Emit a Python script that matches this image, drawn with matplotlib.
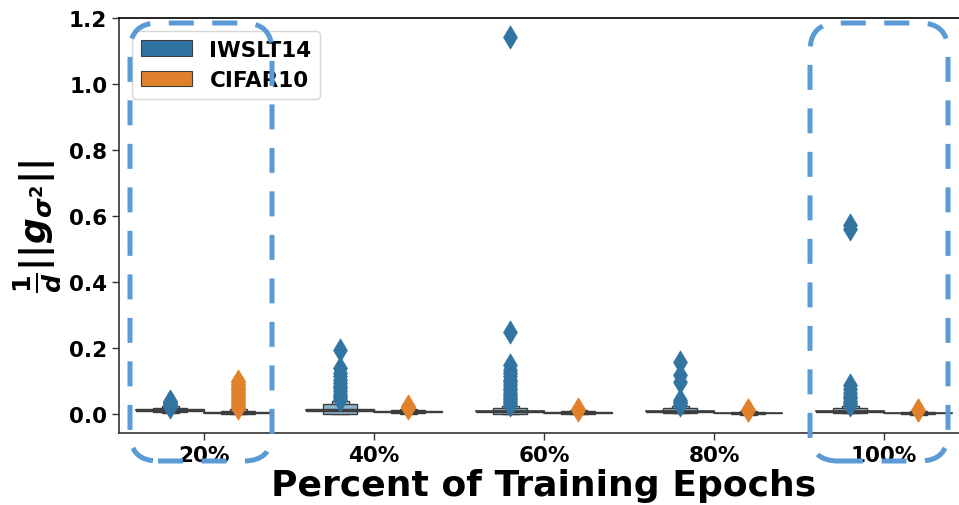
import numpy as np
import matplotlib.pyplot as plt
from matplotlib.patches import Rectangle, FancyBboxPatch, Patch
from matplotlib.colors import to_rgb

plt.rcParams['font.family'] = 'DejaVu Sans'
plt.rcParams['font.weight'] = 'bold'
plt.rcParams['mathtext.fontset'] = 'dejavusans'

categories = ['20%', '40%', '60%', '80%', '100%']
series = ['IWSLT14', 'CIFAR10']
colors = ['#3274a1', '#e1812c']

# letter values per category: (lower, upper) for quartiles, octiles, sixteenths
iwslt_median = [0.013, 0.013, 0.009, 0.009, 0.009]
iwslt_q = [(0.011, 0.015), (0.011, 0.015), (0.008, 0.011), (0.008, 0.011), (0.008, 0.011)]
iwslt_e = [(0.007, 0.020), (0.002, 0.030), (0.002, 0.018), (0.005, 0.018), (0.005, 0.018)]
iwslt_d = [(0.004, 0.026), (0.001, 0.040), (0.001, 0.026), (0.003, 0.026), (0.003, 0.026)]

cifar_median = [0.005, 0.008, 0.005, 0.004, 0.004]
cifar_q = [(0.004, 0.006), (0.007, 0.009), (0.004, 0.006), (0.003, 0.005), (0.003, 0.005)]
cifar_e = [(0.001, 0.011), (0.003, 0.012), (0.001, 0.009), (0.000, 0.008), (0.000, 0.008)]
cifar_d = [(0.000, 0.016), (0.002, 0.017), (0.000, 0.012), (-0.001, 0.011), (-0.001, 0.011)]

iwslt_outliers = [
    [0.022, 0.026, 0.029, 0.032, 0.035, 0.038, 0.040],
    [0.042, 0.048, 0.055, 0.062, 0.070, 0.078, 0.085, 0.095, 0.105, 0.115, 0.125, 0.140, 0.193],
    [0.028, 0.034, 0.040, 0.046, 0.052, 0.058, 0.065, 0.072, 0.080, 0.088, 0.096, 0.105,
     0.115, 0.125, 0.135, 0.150, 0.250, 1.143],
    [0.028, 0.033, 0.038, 0.044, 0.098, 0.120, 0.158],
    [0.028, 0.034, 0.040, 0.048, 0.056, 0.065, 0.075, 0.088, 0.560, 0.572],
]
cifar_outliers = [
    [0.018, 0.022, 0.027, 0.032, 0.037, 0.042, 0.047, 0.052, 0.057, 0.062, 0.067, 0.072,
     0.077, 0.082, 0.087, 0.092, 0.097, 0.102],
    [0.018, 0.021, 0.024],
    [0.013, 0.015],
    [0.012, 0.013],
    [0.012, 0.013],
]

fig = plt.figure(figsize=(9.59, 5.06), dpi=100)
ax = fig.add_axes([119 / 959, 1 - 434 / 506, 850 / 959, 415 / 506])

box_w = 0.4
level_widths = [1.0, 0.5, 0.25]
edge = '#3d3d3d'


def lighten(c, f):
    c = np.array(to_rgb(c))
    return tuple(c + (1 - c) * f)


def draw_boxen(x, med, levels, outl, color):
    # narrow outer boxes first, widest (quartile) box last
    shades = [0.0, 0.45, 0.75]
    for (lo, hi), w, s in reversed(list(zip(levels, level_widths, shades))):
        ww = box_w * w
        ax.add_patch(Rectangle((x - ww / 2, lo), ww, hi - lo, facecolor=lighten(color, s),
                               edgecolor=edge, linewidth=1.0, zorder=2))
    ax.plot([x - box_w / 2, x + box_w / 2], [med, med], color=edge, lw=1.2, zorder=3)
    ax.scatter([x] * len(outl), outl, marker='d', s=140, color=color, edgecolors=color,
               linewidths=0.5, zorder=4)


for i in range(len(categories)):
    draw_boxen(i - 0.2, iwslt_median[i], [iwslt_q[i], iwslt_e[i], iwslt_d[i]],
               iwslt_outliers[i], colors[0])
    draw_boxen(i + 0.2, cifar_median[i], [cifar_q[i], cifar_e[i], cifar_d[i]],
               cifar_outliers[i], colors[1])

ax.set_xlim(-0.5, len(categories) - 0.5)
ax.set_ylim(-0.057, 1.2)
ax.set_xticks(range(len(categories)))
ax.set_xticklabels(categories)
ax.set_yticks(np.arange(0, 1.21, 0.2))
ax.tick_params(labelsize=15.5, width=1, length=5, color='#333333')
for lab in ax.get_xticklabels() + ax.get_yticklabels():
    lab.set_fontweight('bold')
for sp in ax.spines.values():
    sp.set_color('#333333')
    sp.set_linewidth(1.2)
ax.spines['top'].set_color('black')

ax.set_xlabel('Percent of Training Epochs', fontsize=26, fontweight='bold', labelpad=2)
ax.set_ylabel(r'$\frac{\mathbf{1}}{\boldsymbol{d}}||\boldsymbol{g}_{\boldsymbol{\sigma}^{\mathbf{2}}}||$',
              fontsize=26, labelpad=4)

handles = [Patch(facecolor=c, edgecolor=edge, linewidth=0.8) for c in colors]
ax.legend(handles, series, loc='upper left', prop={'size': 15.5, 'weight': 'bold'},
          handlelength=2.4, borderaxespad=0.6)

# dashed highlight frames around the first and last epochs
for x0, x1 in [(130, 272), (810, 948)]:
    y0, y1 = 24, 462
    frame = FancyBboxPatch(((x0) / 100, (506 - y1) / 100), (x1 - x0) / 100, (y1 - y0) / 100,
                           boxstyle='round,pad=0,rounding_size=0.28',
                           transform=fig.dpi_scale_trans, fill=False,
                           edgecolor='#5b9bd5', linewidth=3.6,
                           linestyle=(0, (5.0, 3.7)), clip_on=False, zorder=10)
    fig.patches.append(frame)

fig.savefig('out.png', dpi=100)
